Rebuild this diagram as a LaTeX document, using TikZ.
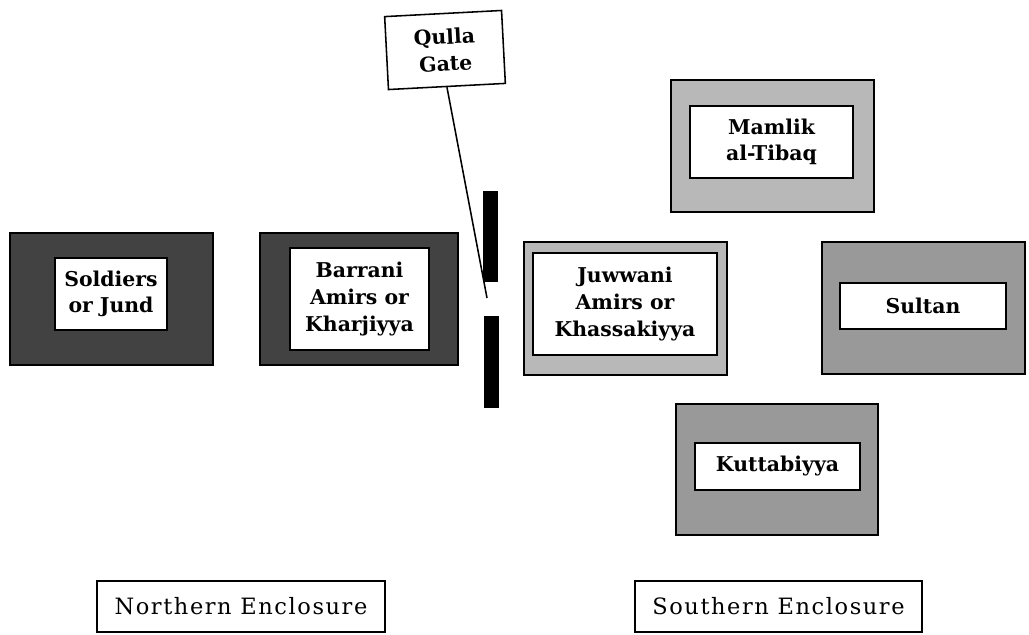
\documentclass[tikz,border=0pt]{standalone}
\usepackage{fontspec}
\setmainfont{DejaVu Serif}
\begin{document}
\begin{tikzpicture}[x=0.025cm,y=-0.025cm,
    outerbox/.style={draw,line width=2pt,inner sep=0pt},
    innerbox/.style={draw,fill=white,line width=1.3pt,inner sep=0pt,align=center,
      font=\fontsize{14.5}{19}\selectfont\bfseries},
    labelbox/.style={draw,fill=white,line width=1.8pt,inner sep=0pt,
      font=\fontsize{16}{19}\selectfont\addfontfeatures{LetterSpace=7}}]
  \useasboundingbox (0,0) rectangle (1029,634);
  % northern enclosure
  \node[outerbox,fill=black!74,minimum width=5.075cm,minimum height=3.3cm] (soldO) at (111.5,299) {};
  \node[innerbox,minimum width=2.8cm,minimum height=1.8cm] (sold) at (111,294) {Soldiers\\or Jund};
  \node[outerbox,fill=black!74,minimum width=4.95cm,minimum height=3.3cm] (barrO) at (359,299) {};
  \node[innerbox,minimum width=3.475cm,minimum height=2.55cm] (barr) at (359.5,299) {Barrani\\Amirs or\\Kharjiyya};
  % gate
  \fill (483,191) rectangle (498,282);
  \fill (484,316) rectangle (499,408);
  \coordinate (gap) at (487,298);
  \node[innerbox,line width=1.1pt,rotate=3,minimum width=2.925cm,minimum height=1.825cm] (qulla) at (445,50) {Qulla\\Gate};
  \draw[line width=1.1pt] (qulla.south) -- (gap);
  % southern enclosure
  \node[outerbox,fill=black!28,minimum width=5.075cm,minimum height=3.3cm] (mamO) at (772.5,146) {};
  \node[innerbox,minimum width=4.075cm,minimum height=1.8cm] (mam) at (771.5,142) {Mamlik\\al-Tibaq};
  \node[outerbox,fill=black!28,minimum width=5.075cm,minimum height=3.325cm] (juwO) at (625.5,308.5) {};
  \node[innerbox,minimum width=4.6cm,minimum height=2.55cm] (juw) at (625,304) {Juwwani\\Amirs or\\Khassakiyya};
  \node[outerbox,fill=black!40,minimum width=5.075cm,minimum height=3.3cm] (sulO) at (923.5,308) {};
  \node[innerbox,minimum width=4.15cm,minimum height=1.15cm] (sul) at (923,306) {Sultan};
  \node[outerbox,fill=black!40,minimum width=5.05cm,minimum height=3.275cm] (kutO) at (777,469.5) {};
  \node[innerbox,minimum width=4.125cm,minimum height=1.175cm] (kut) at (777.5,466.5) {Kuttabiyya};
  % labels
  \node[labelbox,minimum width=7.2cm,minimum height=1.275cm] (north) at (241,606.5) {Northern Enclosure};
  \node[labelbox,minimum width=7.175cm,minimum height=1.275cm] (south) at (778.5,606.5) {Southern Enclosure};
\end{tikzpicture}
\end{document}
